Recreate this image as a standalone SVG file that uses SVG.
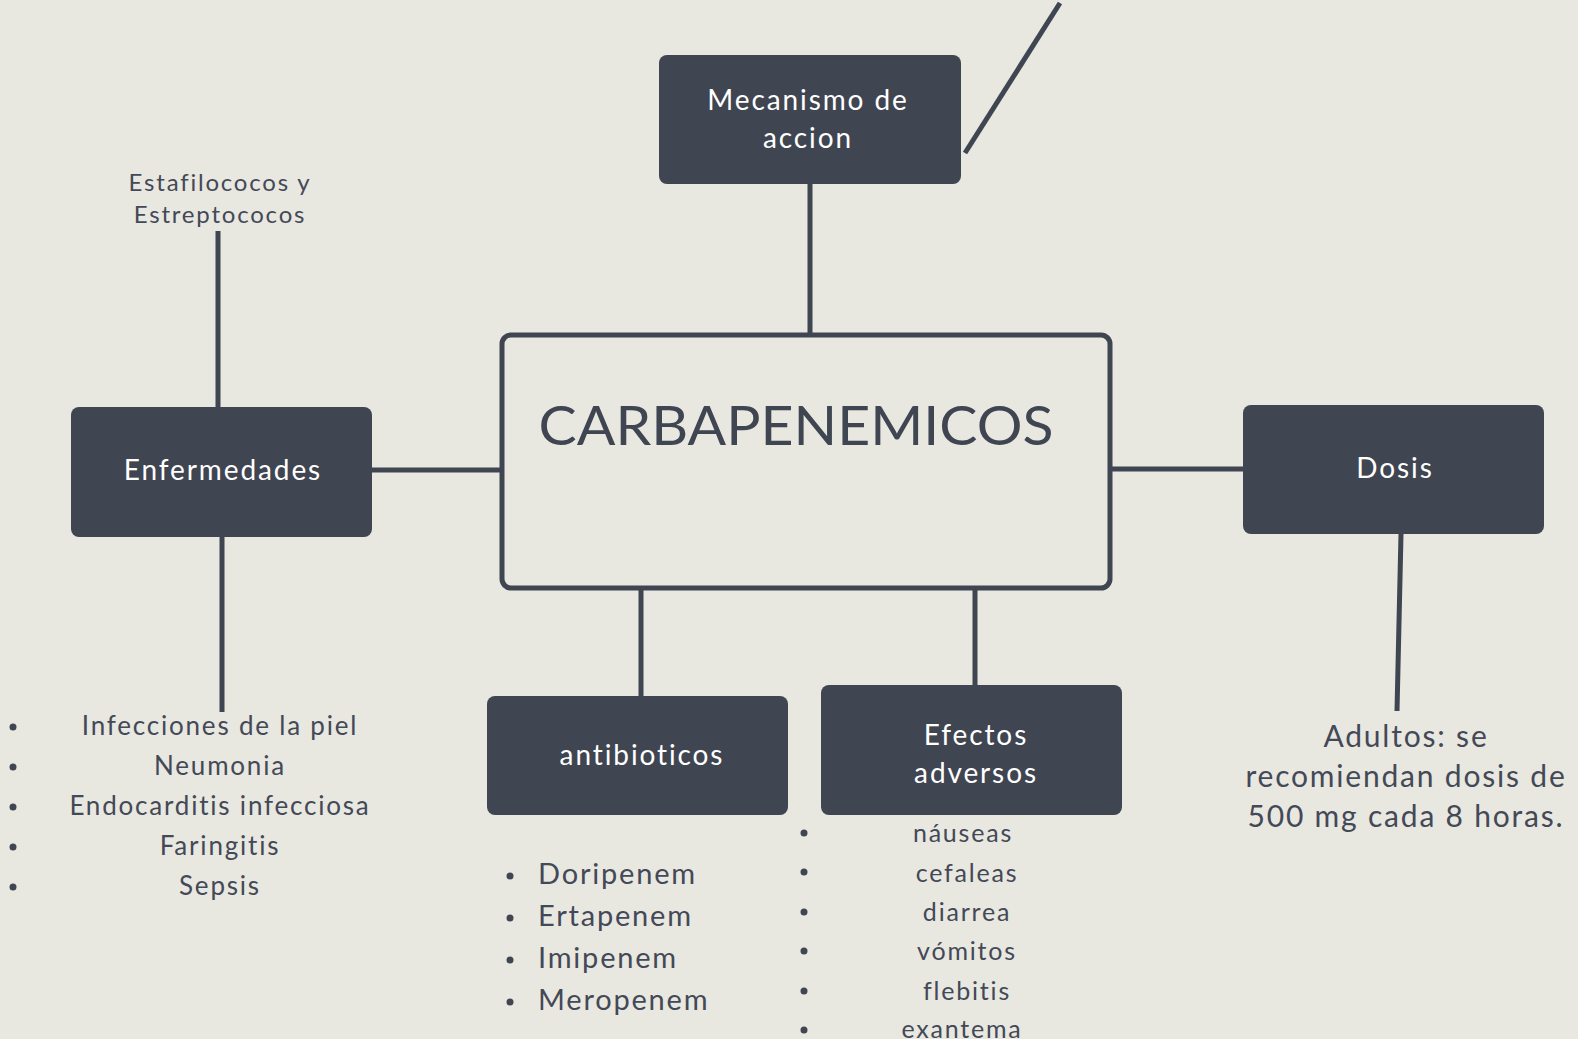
<svg xmlns="http://www.w3.org/2000/svg" width="1578" height="1039" viewBox="0 0 1578 1039">
<style>
.bg{fill:#e8e7e0}
.box{fill:#3f4551}
.ln{stroke:#3f4551;stroke-width:5;fill:none}
.wt{fill:#ffffff;font-family:Lato,"Liberation Sans",sans-serif;font-size:28px;text-anchor:middle;letter-spacing:1.9px}
.dk{fill:#434957;font-family:Lato,"Liberation Sans",sans-serif;letter-spacing:1.8px}
.c{text-anchor:middle}
.bul{fill:#3f4551}
</style>
<rect class="bg" x="0" y="0" width="1578" height="1039"/>
<g id="connectors">
<line class="ln" x1="810" y1="184" x2="810" y2="334"/>
<line class="ln" x1="965" y1="153" x2="1060" y2="3"/>
<line class="ln" x1="218" y1="231" x2="218" y2="408"/>
<line class="ln" x1="222" y1="536" x2="222" y2="712"/>
<line class="ln" x1="371" y1="470" x2="501" y2="470"/>
<line class="ln" x1="1111" y1="469" x2="1244" y2="469"/>
<line class="ln" x1="1401" y1="534" x2="1397" y2="711"/>
<line class="ln" x1="641" y1="589" x2="641" y2="697"/>
<line class="ln" x1="975" y1="589" x2="975" y2="686"/>
</g>
<g id="center">
<rect x="502" y="335" width="608" height="253" rx="9" fill="#e8e7e0" stroke="#3f4551" stroke-width="5"/>
<text x="796" y="445" font-family="Lato,'Liberation Sans',sans-serif" font-size="54" fill="#3f4551" text-anchor="middle" textLength="515" lengthAdjust="spacingAndGlyphs">CARBAPENEMICOS</text>
</g>
<g id="mecanismo">
<rect class="box" x="659" y="55" width="302" height="129" rx="8"/>
<text class="wt" x="808" y="110">Mecanismo de</text>
<text class="wt" x="808" y="148">accion</text>
</g>
<g id="estafilococos">
<text class="dk c" x="220" y="191" font-size="24">Estafilococos y</text>
<text class="dk c" x="220" y="223" font-size="24">Estreptococos</text>
</g>
<g id="enfermedades">
<rect class="box" x="71" y="407" width="301" height="130" rx="8"/>
<text class="wt" x="223" y="480">Enfermedades</text>
</g>
<g id="enf-list">
<circle class="bul" cx="13" cy="727" r="3.5"/>
<circle class="bul" cx="13" cy="767" r="3.5"/>
<circle class="bul" cx="13" cy="807" r="3.5"/>
<circle class="bul" cx="13" cy="847" r="3.5"/>
<circle class="bul" cx="13" cy="887" r="3.5"/>
<text class="dk c" x="220" y="735" font-size="26">Infecciones de la piel</text>
<text class="dk c" x="220" y="775" font-size="26">Neumonia</text>
<text class="dk c" x="220" y="815" font-size="26">Endocarditis infecciosa</text>
<text class="dk c" x="220" y="855" font-size="26">Faringitis</text>
<text class="dk c" x="220" y="895" font-size="26">Sepsis</text>
</g>
<g id="dosis">
<rect class="box" x="1243" y="405" width="301" height="129" rx="8"/>
<text class="wt" x="1395" y="478">Dosis</text>
</g>
<g id="adultos">
<text class="dk c" x="1406" y="747" font-size="30">Adultos: se</text>
<text class="dk c" x="1406" y="787" font-size="30">recomiendan dosis de</text>
<text class="dk c" x="1406" y="827" font-size="30">500 mg cada 8 horas.</text>
</g>
<g id="antibioticos">
<rect class="box" x="487" y="696" width="301" height="119" rx="8"/>
<text class="wt" x="642" y="765">antibioticos</text>
</g>
<g id="anti-list">
<circle class="bul" cx="510" cy="876" r="3.5"/>
<circle class="bul" cx="510" cy="918" r="3.5"/>
<circle class="bul" cx="510" cy="960" r="3.5"/>
<circle class="bul" cx="510" cy="1002" r="3.5"/>
<text class="dk" x="538" y="884" font-size="29" letter-spacing="1.1">Doripenem</text>
<text class="dk" x="538" y="926" font-size="29" letter-spacing="1.1">Ertapenem</text>
<text class="dk" x="538" y="968" font-size="29" letter-spacing="1.1">Imipenem</text>
<text class="dk" x="538" y="1010" font-size="29" letter-spacing="1.1">Meropenem</text>
</g>
<g id="efectos">
<rect class="box" x="821" y="685" width="301" height="130" rx="8"/>
<text class="wt" x="976" y="745">Efectos</text>
<text class="wt" x="976" y="783">adversos</text>
</g>
<g id="efectos-list">
<circle class="bul" cx="804" cy="833" r="3.5"/>
<circle class="bul" cx="804" cy="872" r="3.5"/>
<circle class="bul" cx="804" cy="912" r="3.5"/>
<circle class="bul" cx="804" cy="951" r="3.5"/>
<circle class="bul" cx="804" cy="991" r="3.5"/>
<circle class="bul" cx="804" cy="1030" r="3.5"/>
<text class="dk c" x="963" y="842" font-size="25">náuseas</text>
<text class="dk c" x="967" y="882" font-size="25">cefaleas</text>
<text class="dk c" x="967" y="921" font-size="25">diarrea</text>
<text class="dk c" x="967" y="960" font-size="25">vómitos</text>
<text class="dk c" x="967" y="1000" font-size="25">flebitis</text>
<text class="dk c" x="962" y="1038" font-size="25">exantema</text>
</g>
</svg>
